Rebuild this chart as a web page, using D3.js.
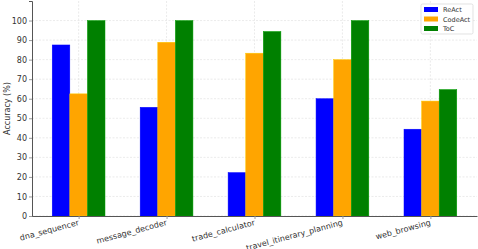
<!DOCTYPE html>
<html>
<head>
<meta charset="utf-8">
<script src="https://cdn.jsdelivr.net/npm/d3@7"></script>
<style>
body { margin:0; background:#fff; }
text { font-family: "DejaVu Sans", sans-serif; }
</style>
</head>
<body>
<div id="chart"></div>
<script>
// data
var tasks = ["dna_sequencer", "message_decoder", "trade_calculator", "travel_itinerary_planning", "web_browsing"];
var methods = ["ReAct", "CodeAct", "ToC"];
var colors = ["#0000ff", "#ffa500", "#008000"];
var react = [87.5, 55.6, 22.2, 60.0, 44.4];
var codeact = [62.5, 88.9, 83.3, 80.0, 58.8];
var toc = [100, 100, 94.4, 100, 64.7];
var yTicks = [0, 10, 20, 30, 40, 50, 60, 70, 80, 90, 100];

var series = [react, codeact, toc];

var margin = {top:1, right:1, bottom:33, left:32};
var width = 478 - margin.left - margin.right;
var height = 249 - margin.top - margin.bottom;

var svg = d3.select("#chart").append("svg")
    .attr("width", 478)
    .attr("height", 249);

var g = svg.append("g")
    .attr("transform", "translate(" + margin.left + "," + margin.top + ")");

// x in "matplotlib units": group i at i, bar width 0.2
var xScale = d3.scaleLinear().domain([-0.53, 4.53]).range([0, width]);
var yScale = d3.scaleLinear().domain([0, 110]).range([height, 0]);

// grid
g.selectAll(".hgrid")
    .data(yTicks)
    .enter().append("line")
    .attr("x1", 0).attr("x2", width)
    .attr("y1", function(d) { return yScale(d); })
    .attr("y2", function(d) { return yScale(d); })
    .attr("stroke", "#e3e3e3")
    .attr("stroke-width", 0.7)
    .attr("stroke-dasharray", "2,1.5");

g.selectAll(".vgrid")
    .data(tasks)
    .enter().append("line")
    .attr("x1", function(d, i) { return xScale(i); })
    .attr("x2", function(d, i) { return xScale(i); })
    .attr("y1", 0).attr("y2", height)
    .attr("stroke", "#e3e3e3")
    .attr("stroke-width", 0.7)
    .attr("stroke-dasharray", "2,1.5");

// bars
var bw = xScale(0.2) - xScale(0);
series.forEach(function(vals, k) {
  g.selectAll(".bar" + k)
    .data(vals)
    .enter().append("rect")
    .attr("x", function(d, i) { return xScale(i + (k - 1) * 0.2 - 0.1); })
    .attr("width", bw)
    .attr("y", function(d) { return yScale(d); })
    .attr("height", function(d) { return height - yScale(d); })
    .attr("fill", colors[k])
    .attr("stroke", d3.color(colors[k]).brighter(0.6))
    .attr("stroke-width", 0.5);
});

// axes
var yAxis = d3.axisLeft(yScale).tickValues(yTicks).tickSize(3).tickPadding(2);
var yg = g.append("g").call(yAxis);
yg.select(".domain").attr("stroke", "#555").attr("stroke-width", 1);
yg.selectAll(".tick line").attr("stroke", "#999");
yg.selectAll("text").attr("fill", "#333").style("font-size", "8px");

var xAxis = d3.axisBottom(xScale).tickValues(d3.range(tasks.length))
    .tickFormat(function(d) { return tasks[d]; }).tickSize(3).tickSizeOuter(0);
var xg = g.append("g")
    .attr("transform", "translate(0," + height + ")")
    .call(xAxis);
xg.select(".domain").attr("stroke", "#555").attr("stroke-width", 1);
xg.selectAll(".tick line").attr("stroke", "#999");
xg.selectAll("text")
    .attr("fill", "#333")
    .style("font-size", "8px")
    .style("text-anchor", "end")
    .attr("dy", "0.71em")
    .attr("y", 3)
    .attr("x", -2)
    .attr("transform", "rotate(-15)");

// y label
svg.append("text")
    .attr("transform", "translate(10," + (margin.top + height / 2) + ") rotate(-90)")
    .attr("text-anchor", "middle")
    .attr("fill", "#333")
    .style("font-size", "8px")
    .text("Accuracy (%)");

// legend
var lg = svg.append("g").attr("transform", "translate(421,4)");
lg.append("rect")
    .attr("width", 52).attr("height", 30)
    .attr("rx", 1.5)
    .attr("fill", "#fff").attr("fill-opacity", 0.85)
    .attr("stroke", "#d5d5d5").attr("stroke-width", 0.7);
methods.forEach(function(m, k) {
  lg.append("rect")
    .attr("x", 3).attr("y", 3 + k * 9.5)
    .attr("width", 14).attr("height", 5)
    .attr("fill", colors[k]);
  lg.append("text")
    .attr("x", 22).attr("y", 8 + k * 9.5)
    .attr("fill", "#333")
    .style("font-size", "6.5px")
    .text(m);
});
</script>
</body>
</html>
